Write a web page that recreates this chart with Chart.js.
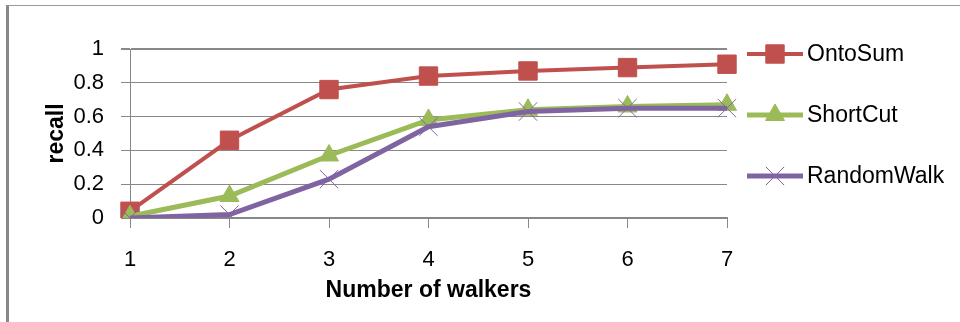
<!DOCTYPE html>
<html>
<head>
  <title>recall vs number of walkers</title>
  <script src="https://cdn.jsdelivr.net/npm/chart.js"></script>
  <style>
    body { margin: 0; background: #fff; }
    #wrap { position: relative; width: 960px; height: 322px; }
    #frame { position: absolute; left: 6px; top: 5px; right: 0; bottom: 0;
             border-left: 3px solid #888; border-top: 1px solid #999; pointer-events: none; }
  </style>
</head>
<body>
<div id="wrap">
  <canvas id="chart" width="960" height="322"></canvas>
  <div id="frame"></div>
</div>

<script>
const walkers = ["1", "2", "3", "4", "5", "6", "7"];
const ontoSum = [0.04, 0.46, 0.76, 0.84, 0.87, 0.89, 0.91];
const shortCut = [0.01, 0.13, 0.37, 0.58, 0.64, 0.66, 0.67];
const randomWalk = [0.00, 0.02, 0.23, 0.54, 0.63, 0.65, 0.65];
const yTicks = [0, 0.2, 0.4, 0.6, 0.8, 1];

const RED = "#C0504D", GREEN = "#9BBB59", PURPLE = "#8064A2";
const FONT = "'Liberation Sans', Arial, sans-serif";

const series = [
  { label: "OntoSum", data: ontoSum, color: RED, width: 4, style: "rect", radius: 13, order: 2 },
  { label: "ShortCut", data: shortCut, color: GREEN, width: 5, style: "triangle", radius: 11, order: 1 },
  { label: "RandomWalk", data: randomWalk, color: PURPLE, width: 5, style: "crossRot", radius: 13, order: 0 }
];

// legend drawn as line + marker like the original spreadsheet chart
const lineLegend = {
  id: "lineLegend",
  afterDraw(chart) {
    const ctx = chart.ctx;
    const rowY = [54, 115, 176];
    series.forEach((s, i) => {
      const y = rowY[i];
      ctx.save();
      ctx.strokeStyle = s.color;
      ctx.lineWidth = s.width;
      ctx.beginPath();
      ctx.moveTo(747, y);
      ctx.lineTo(803, y);
      ctx.stroke();
      ctx.fillStyle = s.color;
      ctx.strokeStyle = s.color;
      ctx.lineWidth = 1;
      Chart.helpers.drawPoint(ctx, { pointStyle: s.style, radius: s.radius, borderWidth: 1, rotation: 0 }, 775, y);
      ctx.fillStyle = "#000";
      ctx.font = "23px " + FONT;
      ctx.textBaseline = "middle";
      ctx.textAlign = "left";
      ctx.fillText(s.label, 807, y + 1);
      ctx.restore();
    });
  }
};

new Chart(document.getElementById("chart"), {
  type: "line",
  data: {
    labels: walkers,
    datasets: series.map(s => ({
      label: s.label,
      data: s.data,
      order: s.order,
      borderColor: s.color,
      backgroundColor: s.color,
      borderWidth: s.width,
      pointStyle: s.style,
      pointRadius: s.radius,
      pointBackgroundColor: s.color,
      pointBorderColor: s.color,
      pointBorderWidth: 1,
      tension: 0
    }))
  },
  options: {
    responsive: false,
    animation: false,
    layout: { padding: { top: 49, right: 233, bottom: 0, left: 0 } },
    plugins: { legend: { display: false }, tooltip: { enabled: false } },
    scales: {
      x: {
        offset: false,
        afterFit: scale => { scale.height = 104; },
        grid: { drawOnChartArea: false, drawTicks: true, tickLength: 10, color: "#888", lineWidth: 1 },
        border: { color: "#888", width: 2 },
        ticks: { color: "#000", font: { family: FONT, size: 22 }, padding: 19, maxRotation: 0 },
        title: { display: true, text: "Number of walkers", color: "#000",
                 font: { family: FONT, size: 23, weight: "bold" }, padding: { top: 0, bottom: 18 } }
      },
      y: {
        min: 0, max: 1,
        afterFit: scale => { scale.width = 130; },
        afterBuildTicks: scale => { scale.ticks = yTicks.map(v => ({ value: v })); },
        grid: { color: "#888", lineWidth: ctx => (ctx.tick && ctx.tick.value === 1 ? 2 : 1), tickLength: 9 },
        border: { color: "#888", width: 1 },
        ticks: { color: "#000", font: { family: FONT, size: 22 }, padding: 17,
                 callback: v => String(v) },
        title: { display: true, text: "recall", color: "#000",
                 font: { family: FONT, size: 23, weight: "bold" }, padding: { top: 43, bottom: 0 } }
      }
    }
  },
  plugins: [lineLegend]
});
</script>
</body>
</html>
